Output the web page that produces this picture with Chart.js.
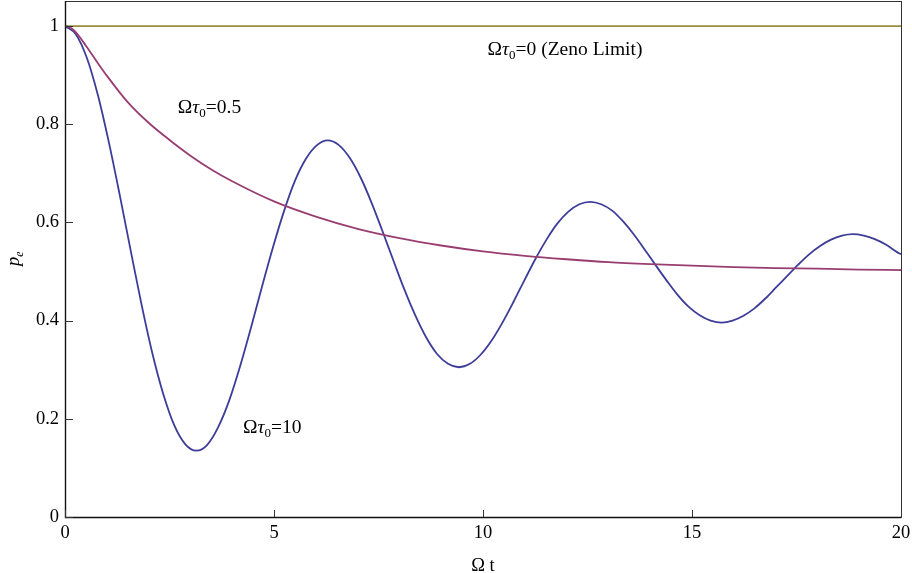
<!DOCTYPE html>
<html>
<head>
<meta charset="utf-8">
<script src="https://cdn.jsdelivr.net/npm/chart.js@4.4.0/dist/chart.umd.min.js"></script>
<style>
  body { margin: 0; background: #fff; }
  #wrap { width: 912px; height: 573px; position: relative; }
</style>
</head>
<body>
<div id="wrap"><canvas id="myChart"></canvas></div>
<script>
// values
const blueX = [0, 0.262, 0.524, 0.785, 1.047, 1.309, 1.571, 1.833, 2.094, 2.356, 2.618, 2.880, 3.142,
  3.403, 3.665, 3.927, 4.189, 4.451, 4.712, 4.974, 5.236, 5.498, 5.760, 6.021, 6.283,
  6.545, 6.807, 7.069, 7.330, 7.592, 7.854, 8.116, 8.378, 8.639, 8.901, 9.163, 9.425,
  9.687, 9.948, 10.210, 10.472, 10.734, 10.996, 11.257, 11.519, 11.781, 12.043, 12.305, 12.566,
  12.828, 13.090, 13.352, 13.614, 13.875, 14.137, 14.399, 14.661, 14.923, 15.184, 15.446, 15.708,
  15.970, 16.232, 16.493, 16.755, 17.017, 17.279, 17.541, 17.802, 18.064, 18.326, 18.588, 18.850,
  19.111, 19.373, 19.635, 19.897, 20];
const blueY = [1.000, 0.983, 0.935, 0.860, 0.764, 0.656, 0.543, 0.432, 0.332, 0.249, 0.186, 0.148, 0.135,
  0.147, 0.183, 0.237, 0.307, 0.386, 0.469, 0.549, 0.622, 0.684, 0.729, 0.757, 0.767,
  0.758, 0.732, 0.692, 0.641, 0.583, 0.523, 0.464, 0.411, 0.366, 0.332, 0.312, 0.305,
  0.312, 0.331, 0.360, 0.397, 0.439, 0.483, 0.526, 0.565, 0.598, 0.622, 0.637, 0.642,
  0.637, 0.624, 0.602, 0.575, 0.544, 0.512, 0.481, 0.452, 0.428, 0.411, 0.400, 0.396,
  0.400, 0.410, 0.425, 0.445, 0.468, 0.491, 0.514, 0.535, 0.552, 0.565, 0.573, 0.576,
  0.573, 0.566, 0.555, 0.540, 0.535];

const redX = [0, 0.125, 0.25, 0.5, 0.75, 1, 1.5, 2, 2.5, 3, 3.5, 4, 5, 6, 7, 8, 9, 10, 11, 12, 13, 14, 15, 16, 17, 18, 19, 20];
const redY = [1.000, 0.997, 0.988, 0.960, 0.929, 0.899, 0.845, 0.803, 0.768, 0.736, 0.708, 0.684, 0.643, 0.612, 0.587,
  0.568, 0.553, 0.541, 0.532, 0.525, 0.519, 0.515, 0.512, 0.509, 0.507, 0.506, 0.504, 0.503];

const zenoX = [0, 20];
const zenoY = [1, 1];

const xTicks = [0, 5, 10, 15, 20];
const yTicks = [0, 0.2, 0.4, 0.6, 0.8, 1];
const yTickLabels = ['0', '0.2', '0.4', '0.6', '0.8', '1'];

// curve labels: [main, subscript, rest, x, y(baseline)]
const curveLabels = [
  ['Ωτ', '0', '=0.5', 2.70, 0.823],
  ['Ωτ', '0', '=10', 4.26, 0.171],
  ['Ωτ', '0', '=0 (Zeno Limit)', 10.11, 0.941]
];

const serif = '"Liberation Serif", "Times New Roman", serif';

function pts(xs, ys) {
  return xs.map((x, i) => ({x: x, y: ys[i]}));
}

function drawParts(ctx, parts, x0, yb) {
  let cx = x0;
  parts.forEach(p => {
    ctx.font = p.f;
    ctx.fillText(p.t, cx, yb + (p.dy || 0));
    cx += ctx.measureText(p.t).width;
  });
  return cx - x0;
}

const framePlugin = {
  id: 'frame',
  afterDraw(chart) {
    const ctx = chart.ctx;
    const a = chart.chartArea;
    const xs = chart.scales.x, ys = chart.scales.y;
    ctx.save();
    // frame
    ctx.strokeStyle = '#333';
    ctx.lineWidth = 1;
    ctx.strokeRect(a.left + 0.5, a.top + 0.5, a.right - a.left, a.bottom - a.top);
    ctx.strokeStyle = '#111';
    ctx.lineWidth = 1.4;
    ctx.beginPath();
    ctx.moveTo(a.left + 0.5, a.top);
    ctx.lineTo(a.left + 0.5, a.bottom + 0.5);
    ctx.lineTo(a.right, a.bottom + 0.5);
    ctx.stroke();
    // inward ticks
    ctx.lineWidth = 1;
    ctx.strokeStyle = '#333';
    ctx.beginPath();
    xTicks.forEach(v => {
      const px = Math.round(xs.getPixelForValue(v)) + 0.5;
      ctx.moveTo(px, a.bottom);
      ctx.lineTo(px, a.bottom - 7);
    });
    yTicks.forEach(v => {
      const py = Math.round(ys.getPixelForValue(v)) + 0.5;
      ctx.moveTo(a.left, py);
      ctx.lineTo(a.left + 8, py);
    });
    ctx.stroke();

    ctx.fillStyle = '#000';
    ctx.textBaseline = 'alphabetic';
    ctx.textAlign = 'left';
    // curve labels
    curveLabels.forEach(l => {
      const parts = [
        {t: 'Ω', f: '19.5px ' + serif},
        {t: 'τ', f: 'italic 19.5px ' + serif},
        {t: l[1], f: '13px ' + serif, dy: 4},
        {t: l[2], f: '19.5px ' + serif}
      ];
      drawParts(ctx, parts, xs.getPixelForValue(l[3]), ys.getPixelForValue(l[4]));
    });

    // x axis title
    const xt = [{t: 'Ω t', f: '18.5px ' + serif}];
    ctx.font = xt[0].f;
    const w = ctx.measureText('Ω t').width;
    drawParts(ctx, xt, (a.left + a.right) / 2 - w / 2, 571);

    // y axis title
    ctx.translate(19, (a.top + a.bottom) / 2);
    ctx.rotate(-Math.PI / 2);
    const yt = [{t: 'p', f: 'italic 18.5px ' + serif}, {t: 'e', f: 'italic 12px ' + serif, dy: 4}];
    ctx.font = yt[0].f;
    drawParts(ctx, yt, -7, 0);
    ctx.restore();
  }
};

const ctx = document.getElementById('myChart').getContext('2d');
const myChart = new Chart(ctx, {
  type: 'line',
  data: {
    datasets: [
      {
        label: 'Zeno',
        data: pts(zenoX, zenoY),
        borderColor: '#998c3d',
        borderWidth: 1.8,
        pointRadius: 0
      }, {
        label: 'tau 0.5',
        data: pts(redX, redY),
        borderColor: '#993d71',
        borderWidth: 1.8,
        pointRadius: 0,
        cubicInterpolationMode: 'monotone'
      }, {
        label: 'tau 10',
        data: pts(blueX, blueY),
        borderColor: '#3d3d99',
        borderWidth: 1.8,
        pointRadius: 0,
        cubicInterpolationMode: 'monotone'
      }]
  },
  options: {
    responsive: true,
    maintainAspectRatio: false,
    animation: false,
    events: [],
    layout: { padding: {top: 1, right: 11, left: 0, bottom: 0} },
    plugins: { legend: {display: false}, tooltip: {enabled: false} },
    scales: {
      x: {
        type: 'linear',
        position: 'bottom',
        min: 0, max: 20,
        grid: {display: false, drawTicks: false},
        border: {display: false},
        afterBuildTicks: s => { s.ticks = xTicks.map(v => ({value: v})); },
        afterFit: s => { s.height = 56; s.paddingLeft = 0; s.paddingRight = 0; },
        ticks: {
          color: '#000',
          padding: 5,
          maxRotation: 0,
          font: {family: serif, size: 18.5},
          callback: v => String(v)
        }
      },
      y: {
        type: 'linear',
        position: 'left',
        min: 0, max: 1.051,
        grid: {display: false, drawTicks: false},
        border: {display: false},
        afterBuildTicks: s => { s.ticks = yTicks.map(v => ({value: v})); },
        afterFit: s => { s.width = 65; s.paddingTop = 0; s.paddingBottom = 0; },
        ticks: {
          color: '#000',
          padding: 6,
          font: {family: serif, size: 18.5},
          callback: (v, i) => yTickLabels[i]
        }
      }
    }
  },
  plugins: [framePlugin]
});
</script>
</body>
</html>
